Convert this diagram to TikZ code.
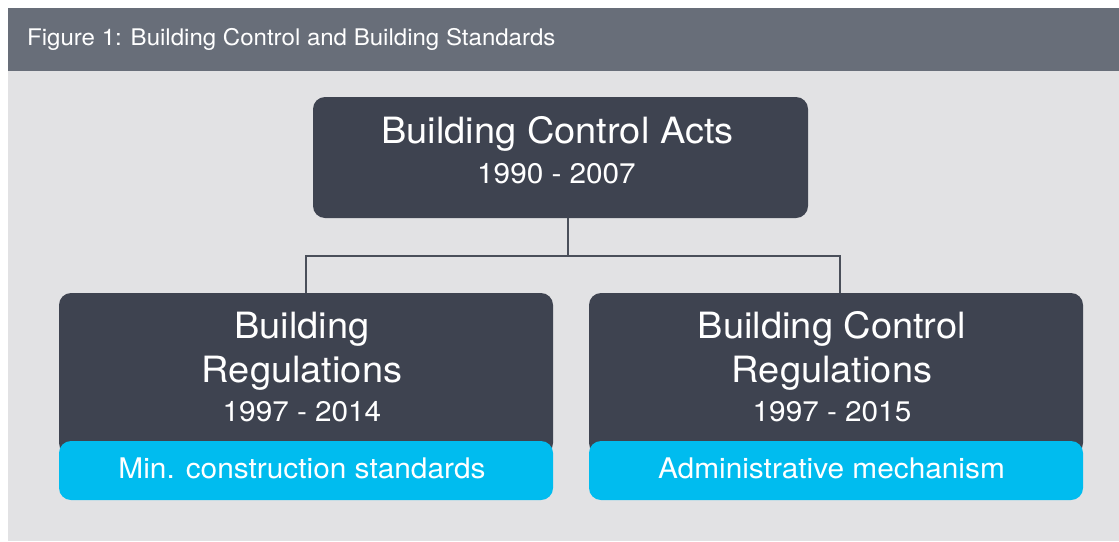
\documentclass[tikz,border=0pt]{standalone}
\usepackage{fontspec}
\setmainfont[FakeStretch=1.05]{TeX Gyre Heros}
\definecolor{headbar}{HTML}{686E79}
\definecolor{panel}{HTML}{E2E2E4}
\definecolor{slate}{HTML}{3E4350}
\definecolor{skyblue}{HTML}{00BCEF}
\definecolor{linkgray}{HTML}{4A4F5A}
\begin{document}
\begin{tikzpicture}[x=1pt,y=-1pt,
  darkbox/.style={fill=slate, rounded corners=12pt, inner sep=0pt, draw=none},
  tagbox/.style={fill=skyblue, rounded corners=12pt, inner sep=0pt, draw=none},
  bigtext/.style={anchor=base, text=white, inner sep=0pt, font=\fontsize{36.2}{40}\selectfont},
  yeartext/.style={anchor=base, text=white, inner sep=0pt, font=\fontsize{28.3}{32}\selectfont},
  tagtext/.style={anchor=base, text=white, inner sep=0pt, font=\fontsize{28.4}{34}\selectfont},
  link/.style={draw=linkgray, line width=1.2pt}]
\useasboundingbox (0,0) rectangle (1119,541);
\fill[white] (0,0) rectangle (1119,541);
% panel and title bar
\fill[panel] (8,70) rectangle (1119,541);
\fill[headbar] (8,8) rectangle (1119,70.5);
\node[anchor=base west, text=white, inner sep=0pt, font=\fontsize{22.9}{26}\selectfont] (title) at (27,45) {Figure 1: Building Control and Building Standards};

% top box
\node[darkbox, minimum width=495pt, minimum height=121pt] (acts) at (560.5,157.5) {};
\node[bigtext] (actsname) at (557.5,143) {Building Control Acts};
\node[yeartext] (actsyears) at (556.5,183) {1990 - 2007};

% left branch
\node[darkbox, minimum width=494pt, minimum height=162pt] (regs) at (306,374) {};
\node[tagbox, minimum width=494pt, minimum height=59pt] (regstag) at (306,470.5) {};
\node[bigtext] (regsname1) at (302,338) {Building};
\node[bigtext] (regsname2) at (302,382) {Regulations};
\node[yeartext] (regsyears) at (302,421.5) {1997 - 2014};
\node[tagtext] (regstagtext) at (302,478) {Min. construction standards};

% right branch
\node[darkbox, minimum width=494pt, minimum height=162pt] (bcr) at (836,374) {};
\node[tagbox, minimum width=494pt, minimum height=59pt] (bcrtag) at (836,470.5) {};
\node[bigtext] (bcrname1) at (832,338) {Building Control};
\node[bigtext] (bcrname2) at (832,382) {Regulations};
\node[yeartext] (bcryears) at (832,421.5) {1997 - 2015};
\node[tagtext] (bcrtagtext) at (831.5,478) {Administrative mechanism};

% connectors
\coordinate (split) at (568,256);
\coordinate (jr) at (840,256);
\draw[link] (acts.south -| split) -- (split);
\draw[link] (regs.north) -- (regs.north |- split) -- (jr) -- (jr |- bcr.north);
\end{tikzpicture}
\end{document}
